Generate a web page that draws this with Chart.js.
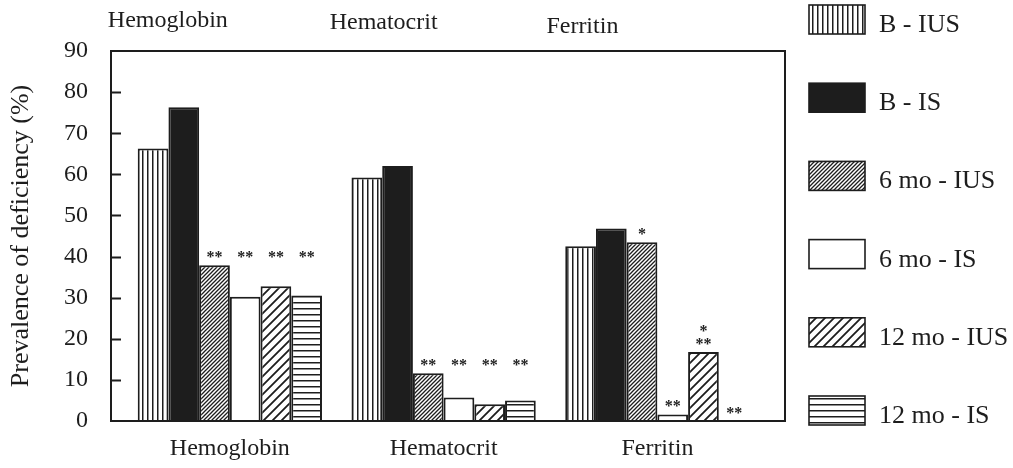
<!DOCTYPE html>
<html>
<head>
<meta charset="utf-8">
<script src="https://cdn.jsdelivr.net/npm/chart.js@4.4.1/dist/chart.umd.min.js"></script>
<style>
  html, body { margin: 0; padding: 0; background: #ffffff; }
  #wrap { width: 1013px; height: 468px; }
</style>
</head>
<body>
<div id="wrap"><canvas id="chart" width="1013" height="468"></canvas></div>
<script>
// Prevalence of deficiency (%) by marker, at baseline, 6 and 12 months
const categories = ['Hemoglobin', 'Hematocrit', 'Ferritin'];
const seriesNames = ['B - IUS', 'B - IS', '6 mo - IUS', '6 mo - IS', '12 mo - IUS', '12 mo - IS'];

const baseIUS  = [66.3, 59.2, 42.5];
const baseIS   = [76.3, 62.0, 46.8];
const m6IUS    = [37.9, 11.6, 43.5];
const m6IS     = [30.2, 5.7, 1.6];
const m12IUS   = [32.8, 4.1, 16.8];
const m12IS    = [30.5, 5.0, 0];

// significance marks per series and category ('\n' stacks marks)
const marksBaseIUS = ['', '', ''];
const marksBaseIS  = ['', '', ''];
const marks6IUS    = ['**', '**', '*'];
const marks6IS     = ['**', '**', '**'];
const marks12IUS   = ['**', '**', '*\n**'];
const marks12IS    = ['**', '**', '**'];

const yTickValues = [0, 10, 20, 30, 40, 50, 60, 70, 80, 90];

const INK = '#1d1d1d';
const SERIF = '"Liberation Serif", "Times New Roman", serif';

// ---- fill patterns ----
function makePattern(size, paint) {
  const c = document.createElement('canvas');
  c.width = size; c.height = size;
  const g = c.getContext('2d');
  g.fillStyle = '#ffffff';
  g.fillRect(0, 0, size, size);
  g.fillStyle = INK;
  g.strokeStyle = INK;
  paint(g, size);
  return g.createPattern(c, 'repeat');
}
function diagonal(width) {
  return (g, s) => {
    g.lineWidth = width;
    g.beginPath();
    g.moveTo(-1, s + 1); g.lineTo(s + 1, -1);
    g.moveTo(-1, 1); g.lineTo(1, -1);
    g.moveTo(s - 1, s + 1); g.lineTo(s + 1, s - 1);
    g.stroke();
  };
}
const fills = [
  makePattern(5, (g, s) => g.fillRect(2, 0, 1.5, s)),        // vertical stripes
  INK,                                                       // solid
  makePattern(4, diagonal(1.3)),                             // dense hatch
  '#ffffff',                                                 // open
  makePattern(9, diagonal(1.8)),                             // wide hatch
  makePattern(6, (g, s) => g.fillRect(0, 2, s, 1.5))         // horizontal stripes
];

const seriesValues = [baseIUS, baseIS, m6IUS, m6IS, m12IUS, m12IS];
const seriesMarks = [marksBaseIUS, marksBaseIS, marks6IUS, marks6IS, marks12IUS, marks12IS];

const datasets = seriesValues.map((vals, i) => ({
  label: seriesNames[i],
  data: vals.map((v, j) => ({ x: j + 1, y: v })),
  marks: seriesMarks[i],
  backgroundColor: fills[i],
  borderColor: INK,
  borderWidth: 2,
  borderSkipped: 'start',
  categoryPercentage: 0.862,
  barPercentage: 1.0
}));

// frame around the plot plus short inward ticks on the value axis
const framePlugin = {
  id: 'frame',
  afterDatasetsDraw(chart) {
    const { ctx, chartArea: a, scales: { y } } = chart;
    ctx.save();
    ctx.strokeStyle = INK;
    ctx.lineWidth = 2;
    ctx.strokeRect(a.left, a.top, a.right - a.left, a.bottom - a.top);
    ctx.lineWidth = 1.8;
    ctx.beginPath();
    yTickValues.slice(1, -1).forEach(v => {
      const py = Math.round(y.getPixelForValue(v)) + 0.5;
      ctx.moveTo(a.left, py);
      ctx.lineTo(a.left + 10, py);
    });
    ctx.stroke();
    ctx.restore();
  }
};

// significance stars above bars
const marksPlugin = {
  id: 'marks',
  afterDatasetsDraw(chart) {
    const { ctx } = chart;
    const size = 16;
    ctx.save();
    ctx.fillStyle = INK;
    ctx.font = 'bold ' + size + 'px ' + SERIF;
    ctx.textAlign = 'center';
    ctx.textBaseline = 'alphabetic';
    categories.forEach((cat, j) => {
      const marked = [];
      chart.data.datasets.forEach((ds, i) => {
        if (ds.marks[j]) marked.push({ i, text: ds.marks[j], bar: chart.getDatasetMeta(i).data[j] });
      });
      if (!marked.length) return;
      const same = marked.every(m => m.text === marked[0].text);
      const shared = Math.min(...marked.map(m => m.bar.y));
      marked.forEach(m => {
        const top = same ? shared : m.bar.y;
        const lines = m.text.split('\n');
        lines.forEach((ln, k) => {
          const center = top - 12 - (lines.length - 1 - k) * 13;
          ctx.fillText(ln, m.bar.x, center + 0.56 * size);
        });
      });
    });
    ctx.restore();
  }
};

// marker names along the top and the series key on the right
const keyPlugin = {
  id: 'key',
  afterDraw(chart) {
    const { ctx, scales: { x } } = chart;
    ctx.save();
    ctx.fillStyle = INK;
    ctx.textBaseline = 'alphabetic';
    ctx.textAlign = 'center';
    ctx.font = '24px ' + SERIF;
    const headShift = [-62, -60, -75];
    const headBase = [27, 29, 33];
    categories.forEach((cat, j) => {
      ctx.fillText(cat, x.getPixelForValue(j + 1) + headShift[j], headBase[j]);
    });

    ctx.textAlign = 'left';
    ctx.font = '26px ' + SERIF;
    chart.data.datasets.forEach((ds, i) => {
      const bx = 809, by = 5 + i * 78.2, bw = 56, bh = 29;
      ctx.fillStyle = ds.backgroundColor;
      ctx.fillRect(bx, by, bw, bh);
      ctx.strokeStyle = INK;
      ctx.lineWidth = 1.6;
      ctx.strokeRect(bx, by, bw, bh);
      ctx.fillStyle = INK;
      ctx.fillText(ds.label, 879, by + 27);
    });
    ctx.restore();
  }
};

new Chart(document.getElementById('chart'), {
  type: 'bar',
  data: { datasets },
  options: {
    responsive: false,
    devicePixelRatio: 1,
    animation: false,
    layout: { padding: { left: 0, top: 51, right: 228, bottom: 0 } },
    plugins: {
      legend: { display: false },
      tooltip: { enabled: false }
    },
    scales: {
      x: {
        type: 'linear',
        offset: false,
        min: 0.444,
        max: 3.597,
        afterBuildTicks: s => { s.ticks = categories.map((c, j) => ({ value: j + 1 })); },
        afterFit: s => { s.height = 47; },
        grid: { display: false, drawTicks: false, offset: false },
        border: { display: false },
        ticks: {
          padding: 13,
          color: INK,
          font: { family: SERIF, size: 24 },
          callback: v => categories[v - 1] || ''
        }
      },
      y: {
        min: 0,
        max: 90,
        afterBuildTicks: s => { s.ticks = yTickValues.map(v => ({ value: v })); },
        afterFit: s => { s.width = 111; },
        grid: { display: false, drawTicks: false },
        border: { display: false },
        ticks: {
          padding: 23,
          color: INK,
          font: { family: SERIF, size: 24 }
        },
        title: {
          display: true,
          text: 'Prevalence of deficiency (%)',
          color: INK,
          font: { family: SERIF, size: 26 },
          padding: { top: 6, bottom: 0 }
        }
      }
    }
  },
  plugins: [framePlugin, marksPlugin, keyPlugin]
});
</script>
</body>
</html>
